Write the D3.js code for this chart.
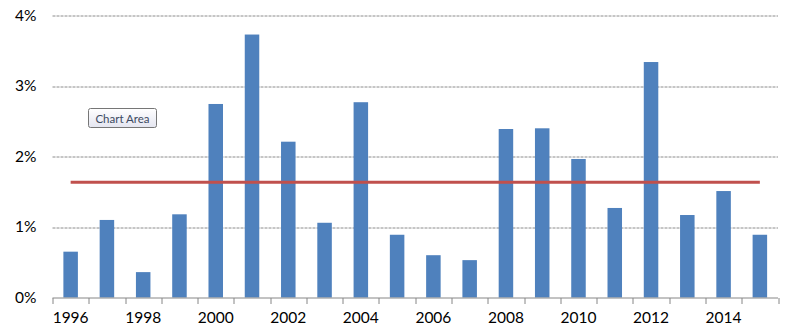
<!DOCTYPE html>
<html>
<head>
<meta charset="utf-8">
<script src="https://cdn.jsdelivr.net/npm/d3@7"></script>
<style>
  body { margin: 0; background: #fff; }
  text { font-family: Lato, "Open Sans", sans-serif; }
</style>
</head>
<body>
<div id="chart"></div>
<script>
// data
const years = [1996, 1997, 1998, 1999, 2000, 2001, 2002, 2003, 2004, 2005,
               2006, 2007, 2008, 2009, 2010, 2011, 2012, 2013, 2014, 2015];
const values = [0.65, 1.10, 0.36, 1.18, 2.745, 3.73, 2.21, 1.06, 2.77, 0.89,
                0.60, 0.53, 2.39, 2.40, 1.965, 1.27, 3.34, 1.17, 1.51, 0.89];
const average = [1.635, 1.635, 1.635, 1.635, 1.635, 1.635, 1.635, 1.635, 1.635, 1.635,
                 1.635, 1.635, 1.635, 1.635, 1.635, 1.635, 1.635, 1.635, 1.635, 1.635];
const yTicks = [0, 1, 2, 3, 4];
const xLabels = [1996, 1998, 2000, 2002, 2004, 2006, 2008, 2010, 2012, 2014];

const width = 785, height = 332;
const margin = { top: 15.5, right: 7, bottom: 34.5, left: 52.5 };
const w = width - margin.left - margin.right;
const h = height - margin.top - margin.bottom;

const svg = d3.select("#chart").append("svg")
  .attr("width", width)
  .attr("height", height);

const g = svg.append("g")
  .attr("transform", `translate(${margin.left}, ${margin.top})`);

const x = d3.scaleBand()
  .domain(years)
  .range([0, w])
  .paddingInner(0.6)
  .paddingOuter(0.3);

const y = d3.scaleLinear()
  .domain([0, 4])
  .range([h, 0]);

// gridlines
g.append("g")
  .selectAll("line")
  .data(yTicks.filter(d => d > 0))
  .join("line")
    .attr("x1", 0)
    .attr("x2", w)
    .attr("y1", d => Math.round(y(d)) + 0.5)
    .attr("y2", d => Math.round(y(d)) + 0.5)
    .attr("stroke", "#8c8c8c")
    .attr("stroke-dasharray", "3,1");

// y labels
g.append("g")
  .selectAll("text")
  .data(yTicks)
  .join("text")
    .attr("x", -16)
    .attr("y", d => y(d))
    .attr("dy", "0.35em")
    .attr("text-anchor", "end")
    .attr("font-size", 15.5)
    .attr("fill", "#000")
    .text(d => `${d}%`);

// bars
g.append("g")
  .selectAll("rect")
  .data(values)
  .join("rect")
    .attr("x", (d, i) => x(years[i]))
    .attr("y", d => y(d))
    .attr("width", x.bandwidth())
    .attr("height", d => y(0) - y(d))
    .attr("fill", "#4f81bd");

// x axis line and ticks
const axis = g.append("g").attr("transform", `translate(0, ${Math.round(h) + 0.5})`);
axis.append("line")
  .attr("x1", 0).attr("x2", w)
  .attr("stroke", "#868686");
axis.selectAll("line.tick")
  .data(d3.range(years.length + 1))
  .join("line")
    .attr("class", "tick")
    .attr("x1", i => Math.round(i * (w / years.length)) + 0.5)
    .attr("x2", i => Math.round(i * (w / years.length)) + 0.5)
    .attr("y1", 0).attr("y2", 6)
    .attr("stroke", "#868686");

axis.selectAll("text")
  .data(xLabels)
  .join("text")
    .attr("x", d => x(d) + x.bandwidth() / 2)
    .attr("y", 25)
    .attr("text-anchor", "middle")
    .attr("font-size", 15.5)
    .attr("fill", "#000")
    .text(d => d);

// average line
const line = d3.line()
  .x((d, i) => x(years[i]) + x.bandwidth() / 2)
  .y(d => y(d));
g.append("path")
  .datum(average)
  .attr("d", line)
  .attr("fill", "none")
  .attr("stroke", "#c0504d")
  .attr("stroke-width", 3);

// "Chart Area" tooltip
const grad = svg.append("defs").append("linearGradient")
  .attr("id", "tip").attr("x1", 0).attr("y1", 0).attr("x2", 0).attr("y2", 1);
grad.append("stop").attr("offset", "0%").attr("stop-color", "#ffffff");
grad.append("stop").attr("offset", "100%").attr("stop-color", "#e4e5f0");
const tip = svg.append("g").attr("transform", "translate(88.5, 108.5)");
tip.append("rect")
  .attr("width", 68).attr("height", 19)
  .attr("rx", 2)
  .attr("fill", "url(#tip)")
  .attr("stroke", "#767676");
tip.append("text")
  .attr("x", 34).attr("y", 10)
  .attr("dy", "0.35em")
  .attr("text-anchor", "middle")
  .attr("font-size", 11.5)
  .attr("fill", "#3c4a62")
  .text("Chart Area");
</script>
</body>
</html>
